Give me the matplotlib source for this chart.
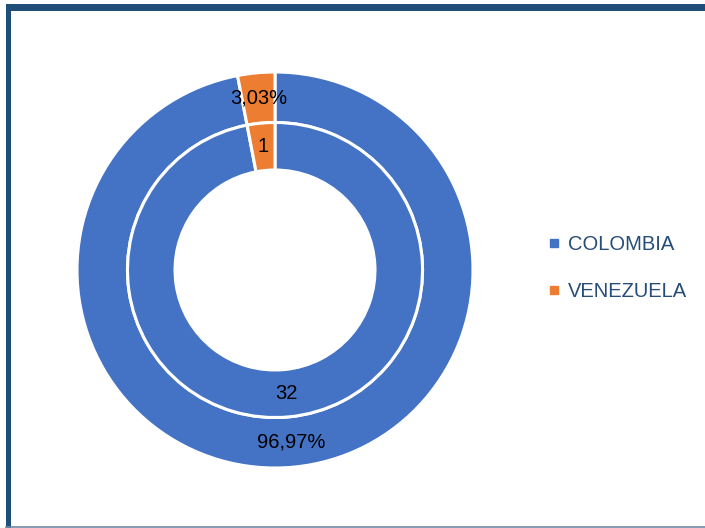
import matplotlib
matplotlib.use("Agg")
import matplotlib.pyplot as plt
from matplotlib.patches import Rectangle
from matplotlib.lines import Line2D
import numpy as np

categories = ["COLOMBIA", "VENEZUELA"]
counts = [32, 1]
percent_labels = ["96,97%", "3,03%"]
colors = ["#4472C4", "#ED7D31"]

fam = ["Liberation Sans", "DejaVu Sans"]
fs = 14.5

W, H = 7.05, 5.28
fig = plt.figure(figsize=(W, H), dpi=100)
fig.patch.set_facecolor("white")

# frame
fw, fh = 705.0, 528.0
fig.add_artist(Rectangle((6 / fw, 0), 5 / fw, 1 - 4 / fh, transform=fig.transFigure,
                         facecolor="#1F4E79", edgecolor="none"))
fig.add_artist(Rectangle((6 / fw, 1 - 11 / fh), 1, 7 / fh, transform=fig.transFigure,
                         facecolor="#1F4E79", edgecolor="none"))
fig.add_artist(Line2D([6 / fw, 1], [0.6 / fh, 0.6 / fh], transform=fig.transFigure,
                      color="#6F87A3", lw=1.2))

R = 198.0
cx, cy = 275.0, 270.0
half = 202.0
ax = fig.add_axes([(cx - half) / fw, (fh - cy - half) / fh, 2 * half / fw, 2 * half / fh])

outer, _ = ax.pie(counts, radius=1.0, colors=colors, startangle=90, counterclock=False,
                  wedgeprops=dict(width=0.255, edgecolor="white", linewidth=2.2))
inner, _ = ax.pie(counts, radius=0.745, colors=colors, startangle=90, counterclock=False,
                  wedgeprops=dict(width=0.24, edgecolor="white", linewidth=2.2))
ax.set_xlim(-half / R, half / R)
ax.set_ylim(-half / R, half / R)
ax.set_aspect("equal")
ax.axis("off")

total = sum(counts)
start = 90.0
for c, pl in zip(counts, percent_labels):
    span = 360.0 * c / total
    mid = np.deg2rad(start - span / 2)
    start -= span
    r_out = 1.0 - 0.255 / 2
    r_in = 0.745 - 0.24 / 2
    ax.text(r_out * np.cos(mid), r_out * np.sin(mid), pl, ha="center", va="center",
            fontsize=fs, family=fam, color="black")
    ax.text(r_in * np.cos(mid), r_in * np.sin(mid), str(c), ha="center", va="center",
            fontsize=fs, family=fam, color="black")

handles = [Line2D([], [], marker="s", linestyle="none", markersize=6,
                  markerfacecolor=col, markeredgecolor=col) for col in colors]
leg = fig.legend(handles, categories, loc="center left",
                 bbox_to_anchor=(530 / fw, 1 - 268 / fh), frameon=False,
                 handlelength=0.6, handletextpad=0.4, labelspacing=1.35,
                 prop=dict(family=fam, size=fs), labelcolor="#264D78")

fig.savefig("out.png", dpi=100, facecolor="white")
